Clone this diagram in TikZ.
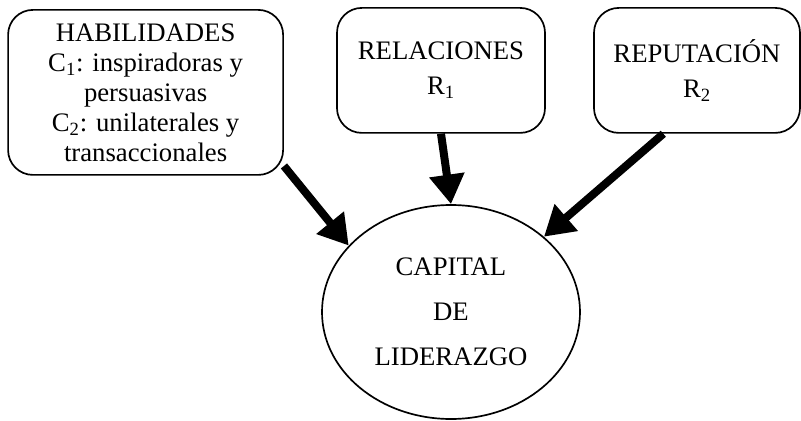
\documentclass[tikz,border=0pt]{standalone}
\usepackage{fontspec}
\setmainfont{Liberation Serif}
\usetikzlibrary{arrows.meta, positioning, shapes}

\begin{document}
\begin{tikzpicture}[every node/.style={draw,line width=1.2pt,align=center,inner sep=2pt}]
    \useasboundingbox (0,0) rectangle (20.025,10.5);
    % cajas de arriba
    \node[rounded corners=0.62cm, minimum width=6.875cm, minimum height=4.125cm,
          font=\fontsize{19}{21.3}\selectfont] (hab) at (3.64,8.19)
          {HABILIDADES\\C\textsubscript{1}: inspiradoras y\\persuasivas\\C\textsubscript{2}: unilaterales y\\transaccionales};
    \node[rounded corners=0.62cm, minimum width=5.2cm, minimum height=3.125cm,
          font=\fontsize{19}{25}\selectfont] (rel) at (11.025,8.74)
          {RELACIONES\\R\textsubscript{1}};
    \node[rounded corners=0.62cm, minimum width=5.15cm, minimum height=3.125cm,
          font=\fontsize{19}{25}\selectfont] (rep) at (17.425,8.74)
          {REPUTACIÓN\\R\textsubscript{2}};
    % elipse central
    \node[ellipse, minimum width=6.45cm, minimum height=5.35cm,
          font=\fontsize{19}{32}\selectfont] (cap) at (11.275,2.7)
          {CAPITAL\\DE\\LIDERAZGO};
    % flechas gruesas
    \tikzset{flecha/.style={-{Triangle[length=21pt,width=24pt]}, line width=5.7pt}}
    \draw[flecha] (hab.-28) -- (cap.147);
    \draw[flecha] (rel.south) -- (cap.north);
    \draw[flecha] (rep.-118) -- (cap.39);
\end{tikzpicture}
\end{document}
